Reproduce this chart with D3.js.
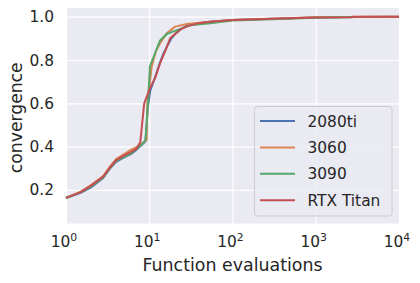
<!DOCTYPE html>
<html>
<head>
<meta charset="utf-8">
<script src="https://cdn.jsdelivr.net/npm/d3@7"></script>
<style>
  body { margin: 0; background: #fff; }
  svg { display: block; font-family: "DejaVu Sans", sans-serif; }
</style>
</head>
<body>
<svg id="chart"></svg>
<script>
// data
const seriesNames = ['2080ti', '3060', '3090', 'RTX Titan'];
const seriesColors = ['#4c72b0', '#dd8452', '#55a868', '#c44e52'];

const x2080ti = [1, 1.5, 2, 2.8, 3.4, 4, 5, 6, 7, 8, 9, 9.6, 10.3, 11, 12, 13.5, 15, 16.5, 18.5, 20.5, 23.5, 28, 39, 54, 100, 300, 1000, 3000, 10000];
const y2080ti = [0.163, 0.187, 0.212, 0.255, 0.3, 0.33, 0.35, 0.365, 0.385, 0.405, 0.425, 0.58, 0.66, 0.69, 0.73, 0.79, 0.835, 0.865, 0.9, 0.92, 0.94, 0.957, 0.97, 0.977, 0.985, 0.99, 0.996, 0.998, 1.0];

const x3060 = [1, 1.5, 2, 2.8, 3.4, 4, 5, 6, 7, 8, 9.3, 9.5, 10.7, 12, 13.5, 16.2, 20.4, 28.2, 54, 100, 300, 1000, 5000, 10000];
const y3060 = [0.163, 0.192, 0.222, 0.264, 0.31, 0.342, 0.366, 0.385, 0.398, 0.412, 0.43, 0.6, 0.77, 0.84, 0.877, 0.923, 0.954, 0.966, 0.977, 0.985, 0.99, 0.997, 1.0, 1.0];

const x3090 = [1, 1.5, 2, 2.8, 3.4, 4, 5, 6, 7, 8, 9.0, 9.3, 10.2, 11.7, 13.5, 16.2, 21.4, 31, 54, 100, 300, 1000, 3000];
const y3090 = [0.163, 0.189, 0.216, 0.258, 0.303, 0.334, 0.353, 0.368, 0.388, 0.408, 0.43, 0.5, 0.77, 0.83, 0.89, 0.92, 0.938, 0.96, 0.97, 0.982, 0.988, 0.995, 0.998];

const xTitan = [1, 1.5, 2, 2.8, 3.4, 4, 5, 6, 7, 7.8, 8.7, 10.2, 11.7, 13.5, 15.5, 17.8, 20.4, 23.5, 28.2, 39, 54, 100, 300, 1000, 2700, 2750, 10000];
const yTitan = [0.163, 0.19, 0.22, 0.262, 0.305, 0.338, 0.36, 0.375, 0.39, 0.42, 0.6, 0.67, 0.715, 0.785, 0.84, 0.9, 0.92, 0.94, 0.955, 0.97, 0.977, 0.985, 0.99, 0.996, 0.997, 1.0, 1.0];

const xTicks = [1, 10, 100, 1000, 10000];
const yTicks = [0.2, 0.4, 0.6, 0.8, 1.0];

const seriesX = [x2080ti, x3060, x3090, xTitan];
const seriesY = [y2080ti, y3060, y3090, yTitan];

let width = 420
let height = 283
let plotLeft = 66, plotRight = 399, plotTop = 8, plotBottom = 223.5

let svg = d3.select('#chart').attr('width', width).attr('height', height)

let xScale = d3.scaleLog().domain([1, 10000]).range([plotLeft, plotRight])
let yScale = d3.scaleLinear().domain([0.045, 1.04]).range([plotBottom, plotTop])

// axes background + grid
svg.append('rect')
  .attr('x', plotLeft).attr('y', plotTop)
  .attr('width', plotRight - plotLeft).attr('height', plotBottom - plotTop)
  .attr('fill', '#eaeaf2')

let xAxis = d3.axisBottom(xScale).tickValues(xTicks).tickSize(-(plotBottom - plotTop)).tickFormat('')
let yAxis = d3.axisLeft(yScale).tickValues(yTicks).tickSize(-(plotRight - plotLeft)).tickFormat('')

let gx = svg.append('g').attr('transform', `translate(0, ${plotBottom})`).call(xAxis)
let gy = svg.append('g').attr('transform', `translate(${plotLeft}, 0)`).call(yAxis)
gx.select('.domain').remove()
gy.select('.domain').remove()
svg.selectAll('.tick line').attr('stroke', '#ffffff').attr('stroke-width', 1.2)

// x tick labels as 10^n
xTicks.forEach(t => {
  let txt = svg.append('text')
    .attr('x', xScale(t) - 2)
    .attr('y', 247)
    .attr('text-anchor', 'middle')
    .attr('fill', '#262626')
    .style('font-size', '15.4px')
  txt.append('tspan').text('10')
  txt.append('tspan')
    .attr('dy', -6.5)
    .style('font-size', '10.8px')
    .text(Math.round(Math.log10(t)))
})

yTicks.forEach(t => {
  svg.append('text')
    .attr('x', 54)
    .attr('y', yScale(t))
    .attr('dy', '0.36em')
    .attr('text-anchor', 'end')
    .attr('fill', '#262626')
    .style('font-size', '15.4px')
    .text(t.toFixed(1))
})

svg.append('text')
  .attr('x', (plotLeft + plotRight) / 2)
  .attr('y', 271)
  .attr('text-anchor', 'middle')
  .attr('fill', '#262626')
  .style('font-size', '17.4px')
  .text('Function evaluations')

svg.append('text')
  .attr('transform', `translate(21.5, ${(plotTop + plotBottom) / 2 + 2}) rotate(-90)`)
  .attr('text-anchor', 'middle')
  .attr('fill', '#262626')
  .style('font-size', '17.2px')
  .text('convergence')

// lines
let line = d3.line()
  .x(d => xScale(d[0]))
  .y(d => yScale(d[1]))

let plot = svg.append('g')
seriesNames.forEach((name, i) => {
  let pts = seriesX[i].map((xv, j) => [xv, seriesY[i][j]])
  plot.append('path')
    .datum(pts)
    .attr('fill', 'none')
    .attr('stroke', seriesColors[i])
    .attr('stroke-width', 2)
    .attr('stroke-linejoin', 'round')
    .attr('d', line)
})

// legend
let legend = svg.append('g')
legend.append('rect')
  .attr('x', 254.5).attr('y', 106.5)
  .attr('width', 137.5).attr('height', 109.5)
  .attr('rx', 3)
  .attr('fill', '#eaeaf2').attr('fill-opacity', 0.8)
  .attr('stroke', '#cccccc').attr('stroke-width', 1)

seriesNames.forEach((name, i) => {
  let ly = 121 + i * 26.4
  legend.append('line')
    .attr('x1', 260).attr('x2', 295)
    .attr('y1', ly).attr('y2', ly)
    .attr('stroke', seriesColors[i])
    .attr('stroke-width', 2)
  legend.append('text')
    .attr('x', 307.5).attr('y', ly)
    .attr('dy', '0.36em')
    .attr('fill', '#262626')
    .style('font-size', '15.4px')
    .text(name)
})
</script>
</body>
</html>
